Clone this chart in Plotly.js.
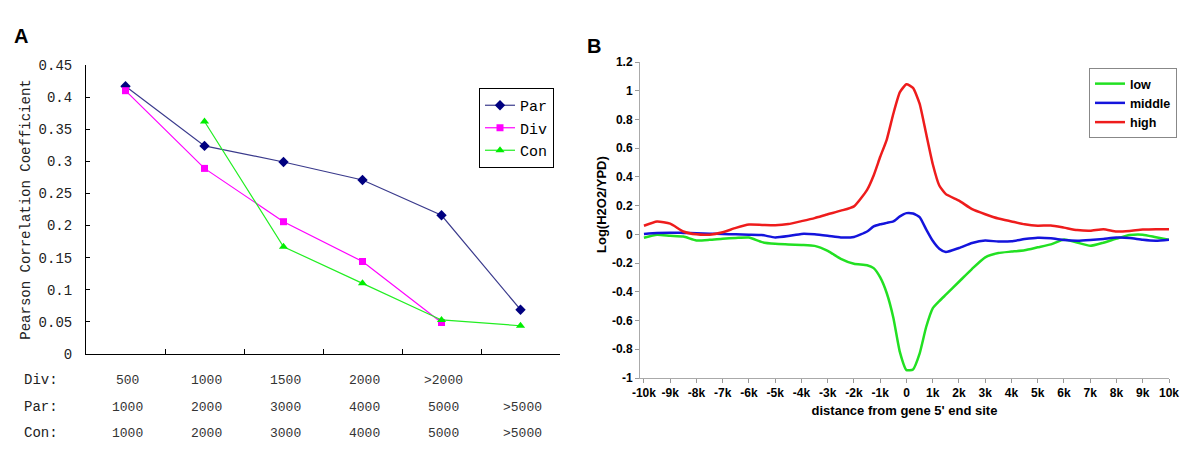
<!DOCTYPE html>
<html>
<head>
<meta charset="utf-8">
<script src="https://cdn.plot.ly/plotly-3.0.1.min.js"></script>
<style>html,body{margin:0;padding:0;background:#fff;}#chart{width:1200px;height:453px;}</style>
</head>
<body>
<div id="chart"></div>
<script>
// ---------- Panel A data ----------
const categoriesA = ['1000', '2000', '3000', '4000', '5000', '>5000'];
const divLabels = ['500', '1000', '1500', '2000', '>2000'];
const parLabels = ['1000', '2000', '3000', '4000', '5000', '>5000'];
const conLabels = ['1000', '2000', '3000', '4000', '5000', '>5000'];
const parValues = [0.417, 0.324, 0.299, 0.271, 0.216, 0.069];
const divValues = [0.410, 0.289, 0.206, 0.144, 0.049];
const conValues = [null, 0.362, 0.167, 0.110, 0.053, 0.044];
const yTickValsA = [0, 0.05, 0.1, 0.15, 0.2, 0.25, 0.3, 0.35, 0.4, 0.45];
const yTickTextA = ['0', '0.05', '0.1', '0.15', '0.2', '0.25', '0.3', '0.35', '0.4', '0.45'];

// ---------- Panel B data ----------
const distanceK = [-10, -9.5, -9, -8.5, -8, -7.5, -7, -6.5, -6, -5.5, -5, -4.5, -4, -3.5, -3, -2.5, -2,
  -1.5, -1.25, -1, -0.75, -0.5, -0.25, 0, 0.25, 0.5, 0.75, 1, 1.25, 1.5,
  2, 2.5, 3, 3.5, 4, 4.5, 5, 5.5, 6, 6.5, 7, 7.5, 8, 8.5, 9, 9.5, 10];
const lowValues = [-0.023, -0.003, -0.010, -0.015, -0.042, -0.038, -0.030, -0.025, -0.022, -0.054, -0.066, -0.070, -0.074, -0.080, -0.115, -0.170, -0.205,
  -0.215, -0.235, -0.300, -0.410, -0.580, -0.820, -0.945, -0.940, -0.830, -0.645, -0.515, -0.465, -0.420,
  -0.330, -0.240, -0.160, -0.130, -0.120, -0.110, -0.090, -0.070, -0.035, -0.057, -0.080, -0.058, -0.030, -0.005, -0.002, -0.020, -0.037];
const middleValues = [0.003, 0.010, 0.012, 0.010, 0.008, 0.005, 0.002, 0.000, -0.002, -0.005, -0.022, -0.012, 0.003, 0.000, -0.010, -0.022, -0.018,
  0.020, 0.055, 0.070, 0.080, 0.090, 0.125, 0.148, 0.145, 0.120, 0.035, -0.045, -0.100, -0.123,
  -0.095, -0.060, -0.043, -0.050, -0.048, -0.033, -0.023, -0.027, -0.040, -0.045, -0.040, -0.032, -0.022, -0.025, -0.038, -0.044, -0.037];
const highValues = [0.060, 0.090, 0.075, 0.020, 0.000, -0.002, 0.015, 0.045, 0.068, 0.066, 0.064, 0.072, 0.092, 0.113, 0.140, 0.165, 0.195,
  0.310, 0.410, 0.540, 0.660, 0.840, 0.990, 1.045, 1.020, 0.910, 0.700, 0.490, 0.340, 0.280,
  0.235, 0.175, 0.140, 0.110, 0.090, 0.070, 0.060, 0.062, 0.047, 0.030, 0.025, 0.036, 0.020, 0.024, 0.033, 0.036, 0.035];
const xTickValsB = [-10, -9, -8, -7, -6, -5, -4, -3, -2, -1, 0, 1, 2, 3, 4, 5, 6, 7, 8, 9, 10];
const xTickTextB = ['-10k', '-9k', '-8k', '-7k', '-6k', '-5k', '-4k', '-3k', '-2k', '-1k', '0', '1k', '2k', '3k', '4k', '5k', '6k', '7k', '8k', '9k', '10k'];
const yTickValsB = [-1, -0.8, -0.6, -0.4, -0.2, 0, 0.2, 0.4, 0.6, 0.8, 1, 1.2];
const yTickTextB = ['-1', '-0.8', '-0.6', '-0.4', '-0.2', '0', '0.2', '0.4', '0.6', '0.8', '1', '1.2'];

const W = 1200, H = 453;
const px = v => v / W;
const py = v => 1 - v / H;
const monoA = 'Liberation Mono, Courier New, monospace';
const sansB = 'Liberation Sans, Arial, sans-serif';

const traces = [
  {x: categoriesA, y: parValues, name: 'Par', type: 'scatter', mode: 'lines+markers', xaxis: 'x', yaxis: 'y', legend: 'legend',
   line: {color: '#3a3a8c', width: 1.2}, marker: {symbol: 'diamond', size: 8, color: '#000080'}},
  {x: categoriesA.slice(0, divValues.length), y: divValues, name: 'Div', type: 'scatter', mode: 'lines+markers', xaxis: 'x', yaxis: 'y', legend: 'legend',
   line: {color: '#ff00ff', width: 1.2}, marker: {symbol: 'square', size: 7, color: '#ff00ff'}},
  {x: categoriesA, y: conValues, name: 'Con', type: 'scatter', mode: 'lines+markers', xaxis: 'x', yaxis: 'y', legend: 'legend', connectgaps: false,
   line: {color: '#22ee22', width: 1.2}, marker: {symbol: 'triangle-up', size: 8, color: '#00ee00'}},
  {x: distanceK, y: lowValues, name: 'low', type: 'scatter', mode: 'lines', xaxis: 'x2', yaxis: 'y2', legend: 'legend2',
   line: {color: '#22e022', width: 2.5, shape: 'spline', smoothing: 0.5}},
  {x: distanceK, y: middleValues, name: 'middle', type: 'scatter', mode: 'lines', xaxis: 'x2', yaxis: 'y2', legend: 'legend2',
   line: {color: '#1414dc', width: 2.5, shape: 'spline', smoothing: 0.5}},
  {x: distanceK, y: highValues, name: 'high', type: 'scatter', mode: 'lines', xaxis: 'x2', yaxis: 'y2', legend: 'legend2',
   line: {color: '#ee1c1c', width: 2.5, shape: 'spline', smoothing: 0.5}}
];

const annotations = [
  {text: 'A', xref: 'paper', yref: 'paper', x: px(21), y: py(36), xanchor: 'center', yanchor: 'middle', showarrow: false,
   font: {family: sansB, size: 20, color: '#000', weight: 'bold'}},
  {text: 'B', xref: 'paper', yref: 'paper', x: px(594), y: py(46), xanchor: 'center', yanchor: 'middle', showarrow: false,
   font: {family: sansB, size: 20, color: '#000', weight: 'bold'}},
  {text: 'Log(H2O2/YPD)', xref: 'paper', yref: 'paper', x: px(601), y: py(205), xanchor: 'center', yanchor: 'middle', textangle: -90, showarrow: false,
   font: {family: sansB, size: 13, color: '#000', weight: 'bold'}}
];
const rowNames = ['Div:', 'Par:', 'Con:'];
const rowLabels = [divLabels, parLabels, conLabels];
const rowY = [380, 407, 433];
rowNames.forEach((nm, r) => {
  annotations.push({text: nm, xref: 'paper', yref: 'paper', x: px(22), y: py(rowY[r]), xanchor: 'left', yanchor: 'middle', showarrow: false,
    font: {family: monoA, size: 14, color: '#222'}});
  rowLabels[r].forEach((lab, i) => {
    annotations.push({text: lab, xref: 'x', yref: 'paper', x: i, y: py(rowY[r]), xanchor: 'center', yanchor: 'middle', showarrow: false,
      xshift: 2, font: {family: monoA, size: 13, color: '#333'}});
  });
});

const layout = {
  width: W, height: H,
  margin: {l: 0, r: 0, t: 0, b: 0},
  paper_bgcolor: '#fff', plot_bgcolor: '#fff',
  showlegend: true,
  xaxis: {domain: [px(86), px(560)], type: 'category', range: [-0.5, 5.5], tickson: 'boundaries',
    ticks: 'inside', ticklen: 5, tickcolor: '#000', showline: true, linecolor: '#000', linewidth: 1,
    showticklabels: false, showgrid: false, zeroline: false, fixedrange: true},
  yaxis: {domain: [py(354), py(65)], range: [0, 0.45], tickvals: yTickValsA, ticktext: yTickTextA,
    ticks: 'inside', ticklen: 4, tickcolor: '#000', showline: true, linecolor: '#000', linewidth: 1,
    showgrid: false, zeroline: false, ticklabelstandoff: 10,
    tickfont: {family: monoA, size: 14, color: '#222'},
    title: {text: 'Pearson Correlation Coefficient', font: {family: monoA, size: 14, color: '#222'}, standoff: 4}},
  xaxis2: {domain: [px(640), px(1169)], range: [-10.15, 10], tickvals: xTickValsB, ticktext: xTickTextB,
    ticks: 'outside', ticklen: 4, tickcolor: '#999', showline: true, linecolor: '#aaa', linewidth: 1,
    showgrid: false, zeroline: false, anchor: 'y2',
    tickfont: {family: sansB, size: 12, color: '#000', weight: 'bold'},
    title: {text: "distance from gene 5' end site", font: {family: sansB, size: 13, color: '#000', weight: 'bold'}, standoff: 6}},
  yaxis2: {domain: [py(378), py(62)], range: [-1, 1.2], tickvals: yTickValsB, ticktext: yTickTextB,
    ticks: 'outside', ticklen: 4, tickcolor: '#999', showline: true, linecolor: '#aaa', linewidth: 1,
    showgrid: false, zeroline: false, anchor: 'x2',
    tickfont: {family: sansB, size: 12, color: '#000', weight: 'bold'}},
  legend: {x: px(479), y: py(88), xanchor: 'left', yanchor: 'top', bordercolor: '#000', borderwidth: 1, bgcolor: '#fff',
    font: {family: monoA, size: 15, color: '#000'}, itemwidth: 30, tracegroupgap: 0},
  legend2: {x: px(1089), y: py(68), xanchor: 'left', yanchor: 'top', bordercolor: '#888', borderwidth: 1, bgcolor: '#fff',
    font: {family: sansB, size: 12.5, color: '#000', weight: 'bold'}, itemwidth: 30, tracegroupgap: 0},
  annotations: annotations
};

Plotly.newPlot('chart', traces, layout, {displayModeBar: false, staticPlot: true});
</script>
</body>
</html>
